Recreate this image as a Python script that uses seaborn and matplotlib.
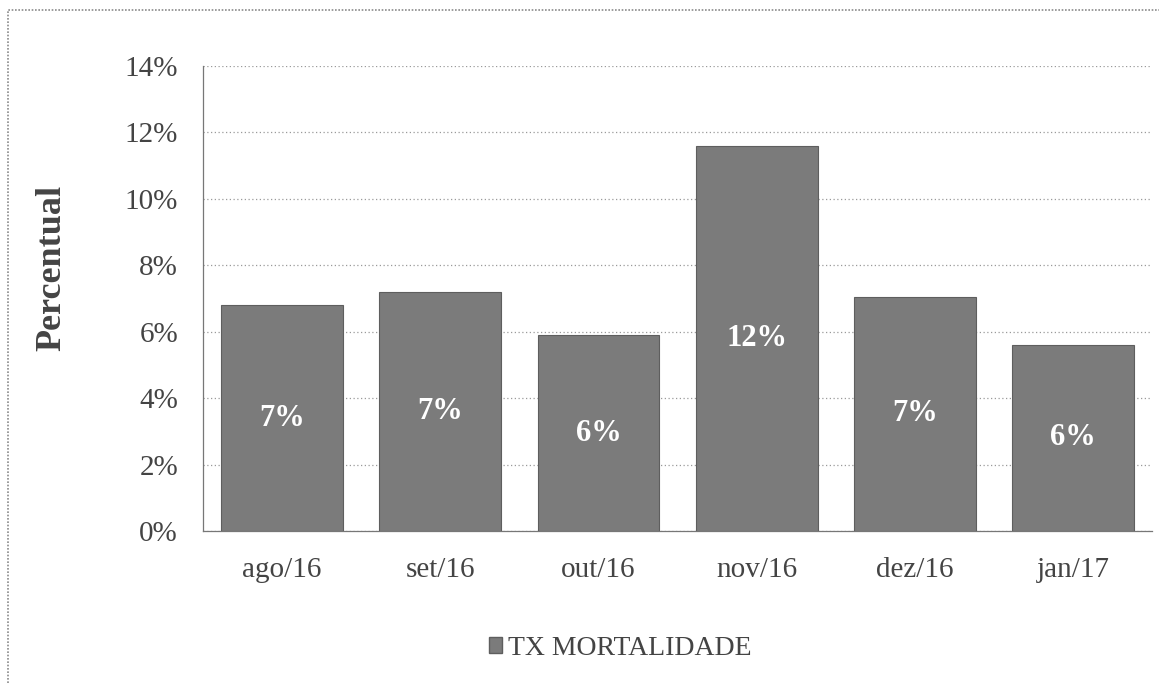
import matplotlib.pyplot as plt
import matplotlib.patches as mpatches
import numpy as np
import pandas as pd
import seaborn as sns

# Data
meses = ["ago/16", "set/16", "out/16", "nov/16", "dez/16", "jan/17"]
taxa = [6.8, 7.2, 5.9, 11.6, 7.05, 5.6]
rotulos = ["7%", "7%", "6%", "12%", "7%", "6%"]
y_ticks = [0, 2, 4, 6, 8, 10, 12, 14]

df = pd.DataFrame({"mes": meses, "taxa": taxa})

sns.set_theme(style="white")
plt.rcParams["font.family"] = ["Liberation Serif", "DejaVu Serif"]

text_color = "#444444"
bar_color = "#7b7b7b"

fig = plt.figure(figsize=(11.59, 6.84), dpi=100)
ax = fig.add_axes([0.1752, 0.2237, 0.8188, 0.6798])

sns.barplot(data=df, x="mes", y="taxa", color=bar_color, width=0.77,
            edgecolor="#5e5e5e", linewidth=0.8, saturation=1, ax=ax, zorder=3)

# value labels in the middle of each bar
for i, (v, lab) in enumerate(zip(taxa, rotulos)):
    ax.text(i, v / 2, lab, ha="center", va="center", color="white",
            fontsize=22, fontweight="bold", zorder=4)

ax.set_ylim(0, 14)
ax.set_xlim(-0.5, len(meses) - 0.5)
ax.set_yticks(y_ticks)
ax.set_yticklabels([f"{t}%" for t in y_ticks])
ax.grid(axis="y", linestyle=(0, (1, 2)), color="#9a9a9a", linewidth=0.9, zorder=0)

# ticks on category boundaries
ax.set_xticks(np.arange(-0.5, len(meses), 1.0), minor=True)
ax.tick_params(axis="x", which="major", length=0, pad=19, labelsize=21, labelcolor=text_color)
ax.tick_params(axis="x", which="minor", length=6, direction="out", color="#777777", width=0.8)
ax.tick_params(axis="y", length=5, direction="out", color="#777777", width=0.8,
               labelsize=21, labelcolor=text_color, pad=13)

for side in ["top", "right"]:
    ax.spines[side].set_visible(False)
for side in ["left", "bottom"]:
    ax.spines[side].set_color("#777777")
    ax.spines[side].set_linewidth(0.9)

ax.set_xlabel("")
ax.set_ylabel("Percentual", fontsize=26, fontweight="bold", color=text_color)
ax.yaxis.set_label_coords(-0.142, 0.565)

# legend at bottom
handle = mpatches.Patch(facecolor=bar_color, edgecolor="#5e5e5e", label="TX MORTALIDADE")
fig.legend(handles=[handle], loc="center", bbox_to_anchor=(0.535, 0.052),
           frameon=False, fontsize=20, handlelength=0.5, handleheight=0.5,
           handletextpad=0.2, labelcolor=text_color)

# outer chart frame
fig.patches.append(mpatches.Rectangle((8 / 1159, -0.1), 1.2, 1 - 10 / 684 + 0.1,
                                      transform=fig.transFigure, fill=False,
                                      edgecolor="#8a8a8a", linewidth=1.2,
                                      linestyle=(0, (1, 1))))

fig.savefig("out.png", dpi=100)
